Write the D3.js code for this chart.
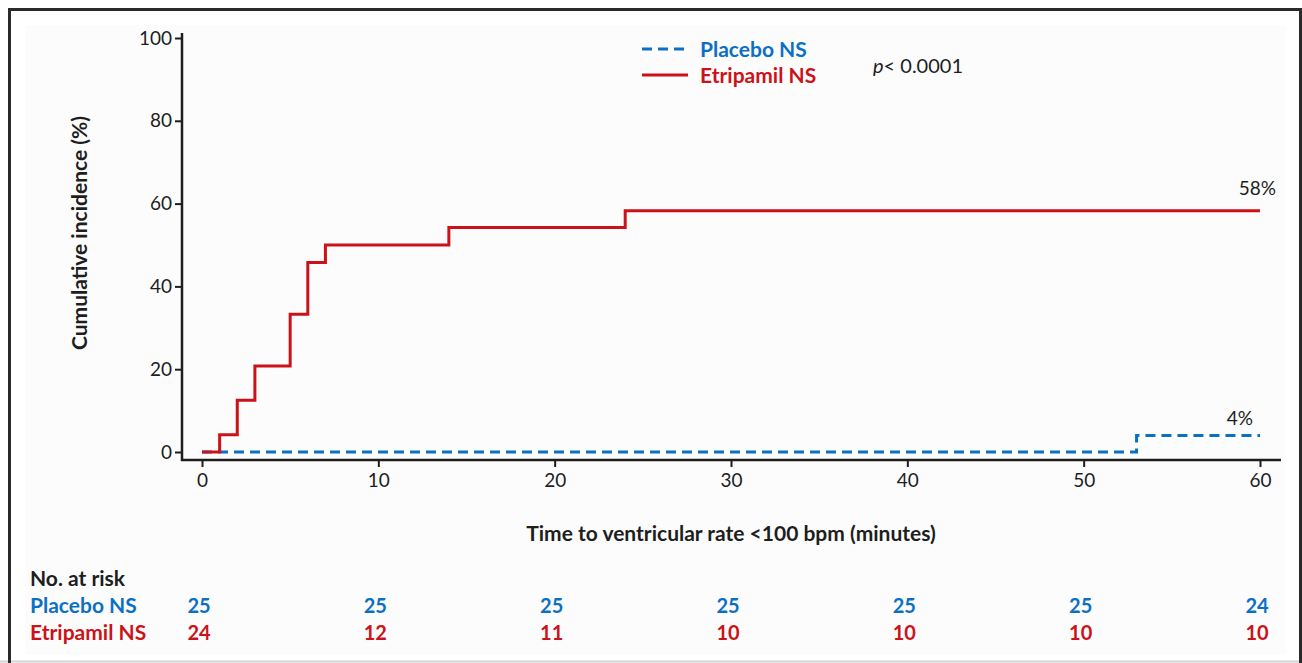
<!DOCTYPE html>
<html>
<head>
<meta charset="utf-8">
<script src="https://cdn.jsdelivr.net/npm/d3@7"></script>
<style>
  body { margin: 0; background: #ffffff; }
  svg text { font-family: Lato, "Open Sans", sans-serif; }
</style>
</head>
<body>
<div id="chart"></div>
<script>
// data
const groups = ["Placebo NS", "Etripamil NS"];
const placeboTimes = [0, 53, 60];
const placeboCum = [0, 4, 4];
const etripamilTimes = [0, 1, 2, 3, 5, 6, 7, 14, 24, 60];
const etripamilCum = [0, 4.17, 12.5, 20.8, 33.3, 45.8, 50, 54.2, 58.3, 58.3];
const xTicks = [0, 10, 20, 30, 40, 50, 60];
const yTicks = [0, 20, 40, 60, 80, 100];
const riskPlacebo = [25, 25, 25, 25, 25, 25, 24];
const riskEtripamil = [24, 12, 11, 10, 10, 10, 10];
const endLabels = ["4%", "58%"];

const W = 1302, H = 663;
const blue = "#0b70c4", red = "#cc1219", ink = "#1e1e1e";

const svg = d3.select("#chart").append("svg")
    .attr("width", W)
    .attr("height", H);

// frame
svg.append("rect").attr("x", 0).attr("y", 0).attr("width", W).attr("height", H).attr("fill", "#ffffff");
svg.append("line").attr("x1", 0).attr("x2", W).attr("y1", 661.5).attr("y2", 661.5)
    .attr("stroke", "#d4d4d4").attr("stroke-width", 2);
svg.append("path")
    .attr("d", "M9.5,663 V9.5 H1300.5 V663")
    .attr("fill", "none").attr("stroke", "#2a2a2a").attr("stroke-width", 3);
svg.append("rect").attr("x", 25).attr("y", 25).attr("width", 1261).attr("height", 630)
    .attr("fill", "#fcfcfc");

// scales
const x = d3.scaleLinear().domain([0, 60]).range([202, 1260]);
const y = d3.scaleLinear().domain([0, 100]).range([452, 38]);

// y axis
const yAxis = svg.append("g")
    .attr("transform", "translate(182,0)")
    .call(d3.axisLeft(y).tickValues(yTicks).tickSize(7).tickPadding(3).tickSizeOuter(0));
yAxis.select(".domain").remove();
yAxis.selectAll(".tick line").attr("stroke", ink).attr("stroke-width", 2);
yAxis.selectAll(".tick text").attr("fill", ink).style("font-size", "19px");
svg.append("line").attr("x1", 182).attr("x2", 182).attr("y1", 33).attr("y2", 461)
    .attr("stroke", ink).attr("stroke-width", 2.5);

// x axis
const xAxis = svg.append("g")
    .attr("transform", "translate(0,460)")
    .call(d3.axisBottom(x).tickValues(xTicks).tickSize(7).tickPadding(7).tickSizeOuter(0));
xAxis.select(".domain").remove();
xAxis.selectAll(".tick line").attr("stroke", ink).attr("stroke-width", 2);
xAxis.selectAll(".tick text").attr("fill", ink).style("font-size", "19px");
svg.append("line").attr("x1", 181).attr("x2", 1281).attr("y1", 460).attr("y2", 460)
    .attr("stroke", ink).attr("stroke-width", 2.5);

// axis titles
svg.append("text")
    .attr("transform", "translate(87,233) rotate(-90)")
    .attr("text-anchor", "middle")
    .attr("fill", ink)
    .style("font-size", "21px").style("font-weight", 700)
    .text("Cumulative incidence (%)");
svg.append("text")
    .attr("x", 731).attr("y", 541)
    .attr("text-anchor", "middle")
    .attr("fill", ink)
    .style("font-size", "21px").style("font-weight", 700)
    .text("Time to ventricular rate <100 bpm (minutes)");

// step curves
const line = d3.line()
    .x(d => x(d[0]))
    .y(d => y(d[1]))
    .curve(d3.curveStepAfter);

svg.append("path")
    .datum(placeboTimes.map((t, i) => [t, placeboCum[i]]))
    .attr("d", line)
    .attr("fill", "none")
    .attr("stroke", blue)
    .attr("stroke-width", 3)
    .attr("stroke-dasharray", "10,6");

svg.append("path")
    .datum(etripamilTimes.map((t, i) => [t, etripamilCum[i]]))
    .attr("d", line)
    .attr("fill", "none")
    .attr("stroke", red)
    .attr("stroke-width", 3);

// end labels
svg.append("text")
    .attr("x", x(60) - 7).attr("y", y(placeboCum[placeboCum.length - 1]) - 10)
    .attr("text-anchor", "end").attr("fill", ink).style("font-size", "19px")
    .text(endLabels[0]);
svg.append("text")
    .attr("x", x(60) + 16).attr("y", y(etripamilCum[etripamilCum.length - 1]) - 16)
    .attr("text-anchor", "end").attr("fill", ink).style("font-size", "19px")
    .text(endLabels[1]);

// legend
const legend = svg.append("g");
legend.append("line").attr("x1", 642).attr("x2", 688).attr("y1", 49).attr("y2", 49)
    .attr("stroke", blue).attr("stroke-width", 3).attr("stroke-dasharray", "10,6");
legend.append("text").attr("x", 700).attr("y", 57).attr("fill", blue)
    .style("font-size", "21px").style("font-weight", 700).text(groups[0]);
legend.append("line").attr("x1", 642).attr("x2", 688).attr("y1", 75).attr("y2", 75)
    .attr("stroke", red).attr("stroke-width", 3);
legend.append("text").attr("x", 700).attr("y", 83).attr("fill", red)
    .style("font-size", "21px").style("font-weight", 700).text(groups[1]);

const pText = svg.append("text").attr("x", 873).attr("y", 73).attr("fill", ink)
    .style("font-size", "20px");
pText.append("tspan").style("font-style", "italic").text("p");
pText.append("tspan").text("< 0.0001");

// number at risk table
svg.append("text").attr("x", 30).attr("y", 586).attr("fill", ink)
    .style("font-size", "21px").style("font-weight", 700).text("No. at risk");

const rows = [
    {name: groups[0], vals: riskPlacebo, color: blue, yy: 613},
    {name: groups[1], vals: riskEtripamil, color: red, yy: 640}
];
rows.forEach(r => {
    svg.append("text").attr("x", 30).attr("y", r.yy).attr("fill", r.color)
        .style("font-size", "21px").style("font-weight", 700).text(r.name);
    svg.append("g").selectAll("text")
        .data(r.vals)
        .enter()
        .append("text")
        .attr("x", (d, i) => x(xTicks[i]) - 3)
        .attr("y", r.yy)
        .attr("text-anchor", "middle")
        .attr("fill", r.color)
        .style("font-size", "20px").style("font-weight", 700)
        .text(d => d);
});
</script>
</body>
</html>
